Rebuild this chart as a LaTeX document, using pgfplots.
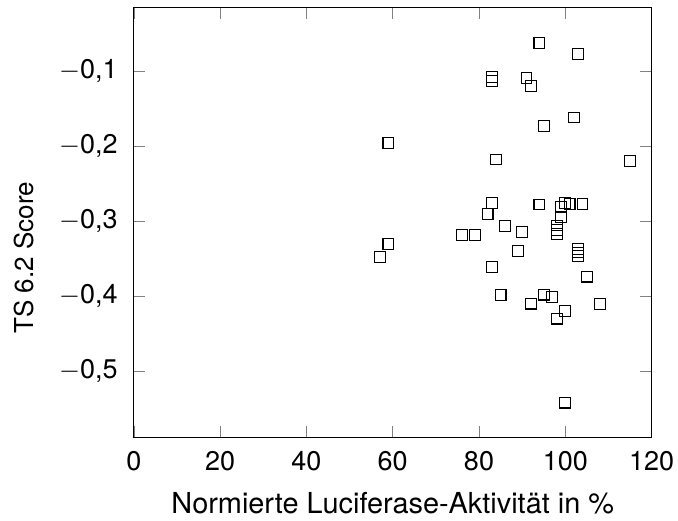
\documentclass[border=0pt]{standalone}
\usepackage{fontspec}
\setmainfont{TeX Gyre Heros}
\usepackage{pgfplots}
\pgfplotsset{compat=1.18}
\begin{document}
\begin{tikzpicture}
\useasboundingbox (-49.6pt,-30.6pt) rectangle (201.5pt,162.0pt);
\begin{axis}[
  at={(0pt,0pt)}, anchor=south west,
  scale only axis,
  width=191.7pt, height=159.3pt,
  xmin=0, xmax=120,
  ymin=-0.5884, ymax=-0.0151,
  xtick={0,20,40,60,80,100,120},
  ytick={-0.5,-0.4,-0.3,-0.2,-0.1},
  yticklabels={{$-$0,5},{$-$0,4},{$-$0,3},{$-$0,2},{$-$0,1}},
  /pgf/number format/assume math mode=true,
  xticklabel style={yshift=-1.6pt},
  yticklabel style={xshift=-2.5pt},
  xlabel={Normierte Luciferase-Aktivität in \%},
  ylabel={TS 6.2 Score},
  xlabel style={at={(axis description cs:0.5,0)}, anchor=base, yshift=-28.1pt, font=\fontsize{10.7pt}{12pt}\selectfont},
  ylabel style={at={(axis description cs:0,0.5)}, anchor=center, xshift=-13.0pt, yshift=40.7pt, font=\fontsize{9.65pt}{11pt}\selectfont},
]
\addplot[only marks, mark=square, mark size=2pt, black] coordinates {
(94,-0.063) (103,-0.077) (83,-0.108) (83,-0.113) (91,-0.109) (92,-0.120)
(102,-0.162) (95,-0.173) (59,-0.196) (84,-0.218) (115,-0.2196)
(83,-0.2756) (82,-0.2907) (94,-0.278) (100,-0.2756) (101,-0.2777) (104,-0.277)
(99,-0.281) (99,-0.2947) (86,-0.3063) (90,-0.315) (98,-0.306) (98,-0.312) (98,-0.317)
(76,-0.319) (79,-0.319) (59,-0.331) (57,-0.348) (89,-0.340)
(103,-0.337) (103,-0.342) (103,-0.347) (83,-0.361) (105,-0.374)
(85,-0.399) (95,-0.398) (97,-0.401) (92,-0.410) (108,-0.411)
(100,-0.420) (98,-0.430) (100,-0.542)
};
\end{axis}
\end{tikzpicture}
\end{document}
